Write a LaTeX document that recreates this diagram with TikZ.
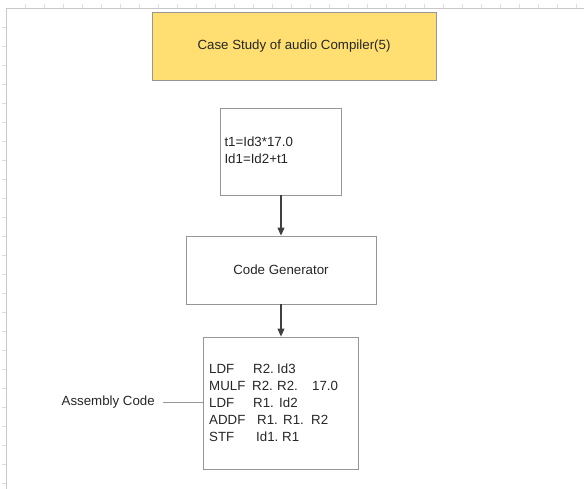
\documentclass[tikz,border=0pt]{standalone}
\usepackage{fontspec}
\setmainfont{Liberation Sans}
\usetikzlibrary{arrows.meta}
\definecolor{boxyellow}{RGB}{255,223,113}
\definecolor{boxedge}{RGB}{150,150,150}
\definecolor{framegray}{RGB}{200,200,200}
\tikzset{
  box/.style={draw=boxedge, line width=0.8pt, fill=white, inner sep=0pt},
  flow/.style={draw=black!75, line width=1.1pt, -{Triangle[length=8pt,width=7pt]}},
  lbl/.style={font=\fontsize{13.3}{17}\selectfont, text=black!85},
}
\newcommand{\col}[2]{\makebox[#1pt][l]{#2}}
\begin{document}
\begin{tikzpicture}[x=1pt,y=-1pt]
\useasboundingbox (0,0) rectangle (584,489);
% page frame
\draw[framegray, line width=0.8pt] (6,489) -- (6,8) -- (584,8);
\foreach \t in {27,46,...,489} \draw[framegray!60, line width=0.4pt] (2,\t) -- (6,\t);
\foreach \t in {25,44,...,584} \draw[framegray!60, line width=0.4pt] (\t,4) -- (\t,8);
% boxes
\node[box, fill=boxyellow, minimum width=284pt, minimum height=68pt, lbl] (title) at (294,46) {Case Study of audio Compiler(5)};
\node[box, minimum width=121pt, minimum height=87pt] (ir) at (280.5,151.5) {};
\node[lbl, anchor=west, align=left] (irtext) at (221,150.5) {t1=Id3*17.0\\Id1=Id2+t1};
\node[box, minimum width=190pt, minimum height=68pt, lbl] (cg) at (281,270) {Code Generator};
\node[box, minimum width=155pt, minimum height=132pt] (asm) at (280.5,403) {};
\node[lbl, anchor=west, align=left, inner sep=0pt] (asmtext) at (209,403) {%
\col{44}{LDF}\col{24}{R2.}Id3\\
\col{43}{MULF}\col{25}{R2.}\col{35}{R2.}17.0\\
\col{44}{LDF}\col{26}{R1.}Id2\\
\col{48}{ADDF}\col{26}{R1.}\col{28}{R1.}R2\\
\col{47}{STF}\col{26}{Id1.}R1};
\node[lbl, anchor=east, inner sep=0pt] (asmlabel) at (155,402) {Assembly Code};
% connectors
\draw[flow] (ir.south -| cg.north) -- (cg.north);
\draw[flow] (cg.south) -- (cg.south |- asm.north);
\draw[boxedge, line width=0.7pt] ([xshift=8pt]asmlabel.east) -- (asm.west |- asmlabel.east);
\end{tikzpicture}
\end{document}
